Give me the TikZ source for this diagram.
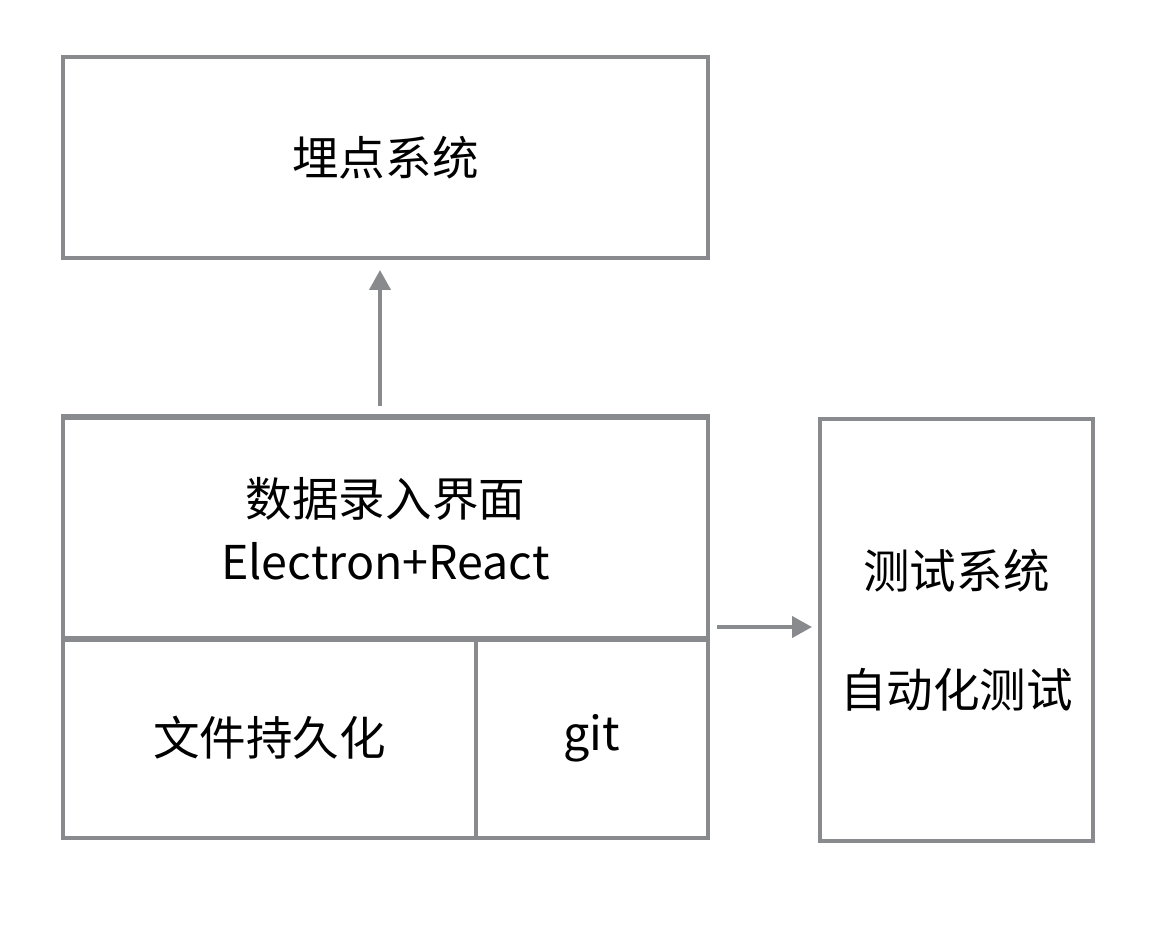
\documentclass[tikz,border=0pt]{standalone}
\usepackage{fontspec}
\setmainfont{Noto Sans CJK SC}
\usetikzlibrary{arrows.meta}
\definecolor{boxgray}{HTML}{898A8E}
\tikzset{
    box/.style={draw=boxgray, line width=0.08cm, minimum width=#1, inner sep=0pt, align=center,
        font=\fontsize{26.5}{36}\selectfont},
    arr/.style={draw=boxgray, line width=0.08cm, -{Triangle[length=0.4cm,width=0.42cm]}}
}
\begin{document}
\begin{tikzpicture}[x=0.02cm, y=-0.02cm]
    \useasboundingbox (0,0) rectangle (1156,924);
    \node[box=12.9cm, minimum height=4.02cm] (track) at (385.5,157.5) {埋点系统};
    \node[box=12.9cm, minimum height=8.44cm] (app) at (385.5,627) {};
    \node[box=12.9cm, minimum height=4.44cm] (ui) at (385.5,529) {数据录入界面\\Electron+React};
    \node[box=8.26cm, minimum height=4cm] (file) at (269.5,738) {文件持久化};
    \node[box=4.64cm, minimum height=4cm] (git) at (592,738) {git};
    \node[box=5.46cm, minimum height=8.44cm] (test) at (956.5,630) {测试系统\\[32pt]自动化测试};
    \draw[arr, shorten <=0.2cm, shorten >=0.2cm] ([xshift=-0.11cm]ui.north) -- ([xshift=-0.11cm]track.south);
    \draw[arr, shorten <=0.14cm, shorten >=0.12cm] (app.east) -- (app.east -| test.west);
\end{tikzpicture}
\end{document}
